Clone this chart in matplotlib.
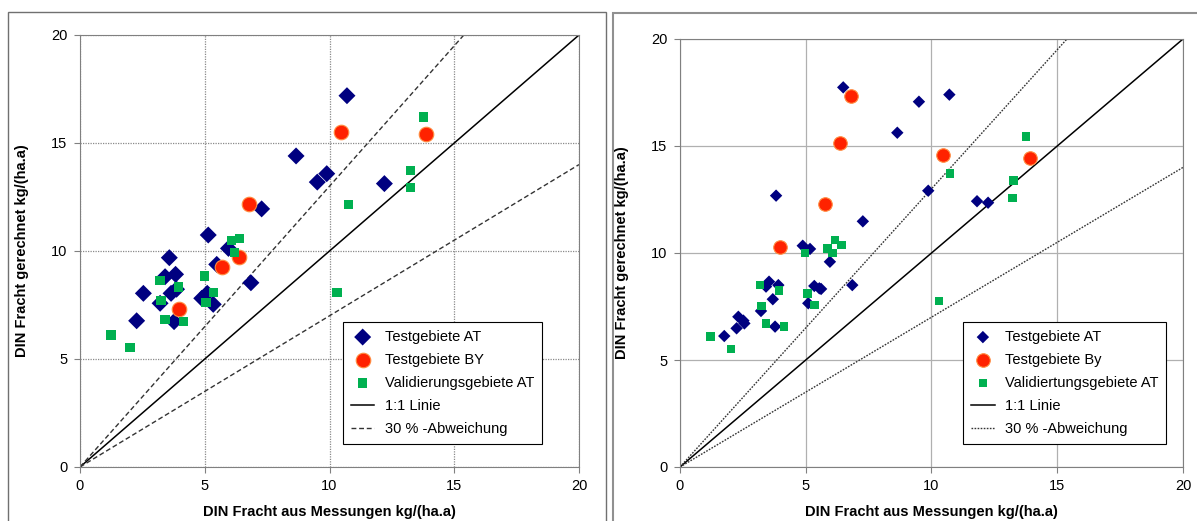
import matplotlib
matplotlib.use("Agg")
import matplotlib.pyplot as plt
from matplotlib.patches import Rectangle
import numpy as np

plt.rcParams['font.family'] = ['Liberation Sans', 'DejaVu Sans']

# left panel data
l_at_x = [10.7, 8.66, 9.51, 9.89, 12.2, 7.28, 5.14, 5.95, 3.58, 5.48, 3.41, 3.83, 2.54, 3.65, 3.87,
          3.21, 6.85, 4.88, 5.10, 5.34, 2.27, 3.77]
l_at_y = [17.19, 14.4, 13.19, 13.58, 13.12, 11.95, 10.74, 10.12, 9.69, 9.38, 8.81, 8.92, 8.04, 8.04, 8.23,
          7.58, 8.53, 7.81, 8.04, 7.53, 6.77, 6.73]
l_by_x = [10.47, 13.88, 6.77, 6.39, 5.70, 3.98]
l_by_y = [15.52, 15.40, 12.16, 9.74, 9.24, 7.33]
l_val_x = [13.76, 13.24, 13.24, 10.76, 10.30, 6.08, 6.39, 6.19, 4.98, 3.21, 3.94, 3.25, 5.34, 5.05,
           3.41, 4.14, 1.24, 2.00]
l_val_y = [16.2, 13.72, 12.95, 12.16, 8.09, 10.48, 10.59, 9.92, 8.84, 8.63, 8.33, 7.72, 8.07, 7.62,
           6.84, 6.73, 6.11, 5.54]

# right panel data
r_at_x = [6.49, 10.71, 9.50, 8.64, 9.87, 11.81, 12.25, 7.27, 5.96, 6.85, 5.61, 3.82, 4.88, 5.17,
          5.34, 5.54, 3.54, 3.42, 3.91, 3.69, 3.22, 5.10, 2.32, 2.52, 2.25, 2.56, 3.78, 1.76]
r_at_y = [17.74, 17.40, 17.07, 15.62, 12.91, 12.42, 12.35, 11.48, 9.59, 8.50, 8.32, 12.68, 10.34, 10.19,
          8.46, 8.35, 8.66, 8.43, 8.50, 7.84, 7.29, 7.65, 7.02, 6.84, 6.48, 6.71, 6.56, 6.12]
r_by_x = [6.79, 6.36, 10.47, 13.92, 5.75, 3.98]
r_by_y = [17.34, 15.13, 14.58, 14.45, 12.28, 10.30]
r_val_x = [13.76, 10.74, 13.25, 13.23, 10.30, 6.16, 6.43, 5.86, 6.07, 4.97, 3.18, 3.94, 5.06, 5.34,
           3.25, 3.42, 4.14, 1.22, 2.02]
r_val_y = [15.44, 13.72, 13.38, 12.57, 7.76, 10.61, 10.37, 10.22, 10.01, 10.01, 8.50, 8.24, 8.12, 7.57,
           7.52, 6.71, 6.56, 6.09, 5.51]

ticks = [0, 5, 10, 15, 20]
line_x = np.array([0, 20])

BLUE = '#000080'
RED = '#FF2200'
GREEN = '#00B050'

fig = plt.figure(figsize=(11.97, 5.21), dpi=100)

# outer frames
fig.patches.append(Rectangle((8 / 1197, -0.05), (606 - 8) / 1197, 1.05 - 12 / 521,
                             transform=fig.transFigure, fill=False, edgecolor='#707070', lw=1))
fig.patches.append(Rectangle((613 / 1197, -0.05), (1200 - 613) / 1197, 1.05 - 13 / 521,
                             transform=fig.transFigure, fill=False, edgecolor='#909090', lw=1.5))


def draw_panel(ax, at_x, at_y, by_x, by_y, val_x, val_y, labels, ls, grid_ls, grid_c, sizes, leg_anchor):
    ax.set_xlim(0, 20)
    ax.set_ylim(0, 20)
    ax.set_xticks(ticks)
    ax.set_yticks(ticks)
    ax.grid(True, color=grid_c, linestyle=grid_ls, linewidth=0.9)
    ax.set_axisbelow(True)
    ax.scatter(at_x, at_y, marker='D', s=sizes[0], color=BLUE, edgecolors='none', zorder=3, label=labels[0])
    ax.scatter(by_x, by_y, marker='o', s=sizes[1], color=RED, edgecolors='#FF8C40', linewidths=0.8,
               zorder=3, label=labels[1])
    ax.scatter(val_x, val_y, marker='s', s=sizes[2], color=GREEN, edgecolors='none', zorder=3, label=labels[2])
    ax.plot(line_x, line_x, color='black', lw=1.1, label=labels[3], zorder=2)
    ax.plot(line_x, 1.3 * line_x, color='#333333', lw=1.0, linestyle=ls, label=labels[4], zorder=2)
    ax.plot(line_x, 0.7 * line_x, color='#333333', lw=1.0, linestyle=ls, zorder=2)
    for s in ax.spines.values():
        s.set_color('#808080')
    ax.tick_params(direction='out', length=4, color='#808080', labelsize=10.5, pad=5)
    ax.set_xlabel('DIN Fracht aus Messungen kg/(ha.a)', fontsize=10.5, fontweight='bold', labelpad=8)
    ax.set_ylabel('DIN Fracht gerechnet kg/(ha.a)', fontsize=10.5, fontweight='bold', labelpad=16)
    leg = ax.legend(loc='upper left', bbox_to_anchor=leg_anchor, fontsize=10.5,
                    fancybox=False, framealpha=1, edgecolor='black', labelspacing=0.62,
                    handlelength=1.6, handletextpad=0.7, borderpad=0.55, borderaxespad=0,
                    scatterpoints=1)
    leg.get_frame().set_linewidth(0.8)


ax1 = fig.add_axes([80 / 1197, 54 / 521, 499 / 1197, 432 / 521])
draw_panel(ax1, l_at_x, l_at_y, l_by_x, l_by_y, l_val_x, l_val_y,
           ['Testgebiete AT', 'Testgebiete BY', 'Validierungsgebiete AT', '1:1 Linie', '30 % -Abweichung'],
           (0, (3.5, 2)), (0, (1, 1)), '#8a8a8a', [75, 110, 45], (0.527, 0.336))

ax2 = fig.add_axes([680 / 1197, 54 / 521, 503 / 1197, 428 / 521])
draw_panel(ax2, r_at_x, r_at_y, r_by_x, r_by_y, r_val_x, r_val_y,
           ['Testgebiete AT', 'Testgebiete By', 'Validiertungsgebiete AT', '1:1 Linie', '30 % -Abweichung'],
           (0, (1.2, 1)), '-', '#b0b0b0', [40, 95, 38], (0.563, 0.339))

fig.savefig('out.png', dpi=100)
